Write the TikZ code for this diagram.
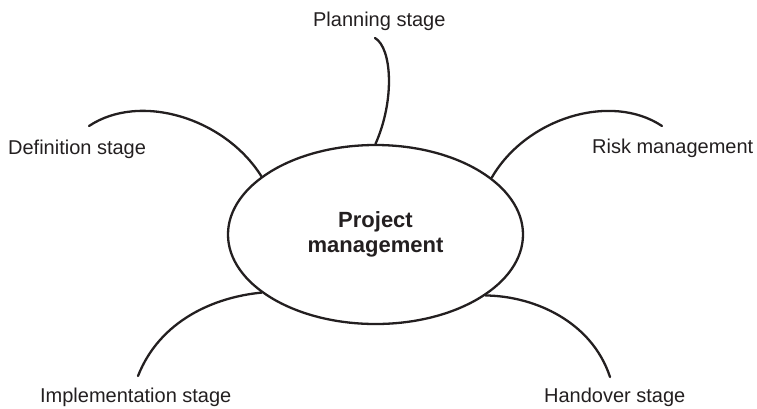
\documentclass[tikz,border=0pt]{standalone}
\usepackage{fontspec}
\setmainfont{Liberation Sans}
\usetikzlibrary{shapes.geometric}
\definecolor{ink}{RGB}{35,31,32}

\begin{document}
\begin{tikzpicture}[x=1pt, y=-1pt, line width=2.3pt, ink]
    \tikzstyle{hub}=[draw, ellipse, inner sep=0pt, minimum width=295pt, minimum height=179pt, align=center, font=\fontsize{22}{24.5}\selectfont\bfseries]
    \tikzstyle{stage}=[inner sep=0pt, anchor=base west, font=\fontsize{20}{24}\selectfont]
    \tikzstyle{branch}=[draw, line cap=round]

    \useasboundingbox (0,0) rectangle (757,408);

    % Centre ellipse
    \node[hub] (pm) at (375.5,234.5) {Project\\management};

    % Stage labels, placed at their baselines
    \node[stage] (plan) at (312,26) {Planning stage};
    \node[stage] (def) at (7,154) {Definition stage};
    \node[stage] (risk) at (591,153) {Risk management};
    \node[stage] (impl) at (39,402) {Implementation stage};
    \node[stage] (hand) at (543,402) {Handover stage};

    % Free ends of the branches
    \coordinate (plan-end) at (375,38);
    \coordinate (def-end) at (89,126);
    \coordinate (risk-end) at (662,126);
    \coordinate (impl-end) at (138,376);
    \coordinate (hand-end) at (610,377);

    % Curved branches
    \path[branch]
      (pm.90) .. controls (395,100) and (392,48) .. (plan-end)
      (pm.153.1) .. controls (225,118) and (140,92) .. (def-end)
      (pm.26.9) .. controls (526,118) and (611,92) .. (risk-end)
      (pm.207.7) .. controls (215,297) and (160,320) .. (impl-end)
      (pm.331.9) .. controls (535,296) and (592,322) .. (hand-end);
\end{tikzpicture}
\end{document}
